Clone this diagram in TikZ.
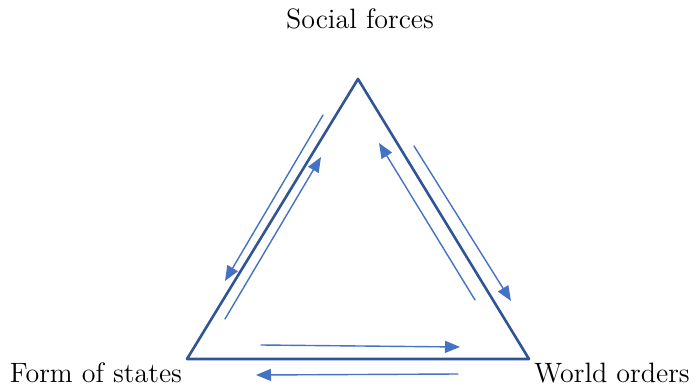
\documentclass[tikz,border=0pt]{standalone}
\usetikzlibrary{arrows.meta}
\definecolor{tridark}{HTML}{2F5597}
\definecolor{arrblue}{HTML}{4472C4}

\begin{document}
\begin{tikzpicture}[x=0.5pt,y=-0.5pt,line cap=round,line join=round,
  every node/.style={inner sep=1pt,font=\fontsize{14}{16}\selectfont},
  flow/.style={arrblue,line width=0.7pt,-{Triangle[length=7.5pt,width=6pt]}}]
  \useasboundingbox (0,0) rectangle (697,386);
  \coordinate (A) at (358,79);
  \coordinate (B) at (187,359);
  \coordinate (C) at (529,359);
  \draw[tridark,line width=1.3pt] (A) -- (B) -- (C) -- cycle;
  \node (social) at (360,19) {Social forces};
  \node (form) at (96,373) {Form of states};
  \node (world) at (612,373) {World orders};
  % pairs of arrows along each side
  \coordinate (l1) at (323,115);
  \coordinate (l2) at (225,281);
  \coordinate (l3) at (225,319);
  \coordinate (l4) at (321,157);
  \draw[flow] (l1) -- (l2);
  \draw[flow] (l3) -- (l4);
  \coordinate (r1) at (475,300);
  \coordinate (r2) at (379,143);
  \coordinate (r3) at (414,146);
  \coordinate (r4) at (511,301);
  \draw[flow] (r1) -- (r2);
  \draw[flow] (r3) -- (r4);
  \coordinate (b1) at (261,345);
  \coordinate (b2) at (460,347);
  \coordinate (b3) at (458,374);
  \coordinate (b4) at (256,375);
  \draw[flow] (b1) -- (b2);
  \draw[flow] (b3) -- (b4);
\end{tikzpicture}
\end{document}
